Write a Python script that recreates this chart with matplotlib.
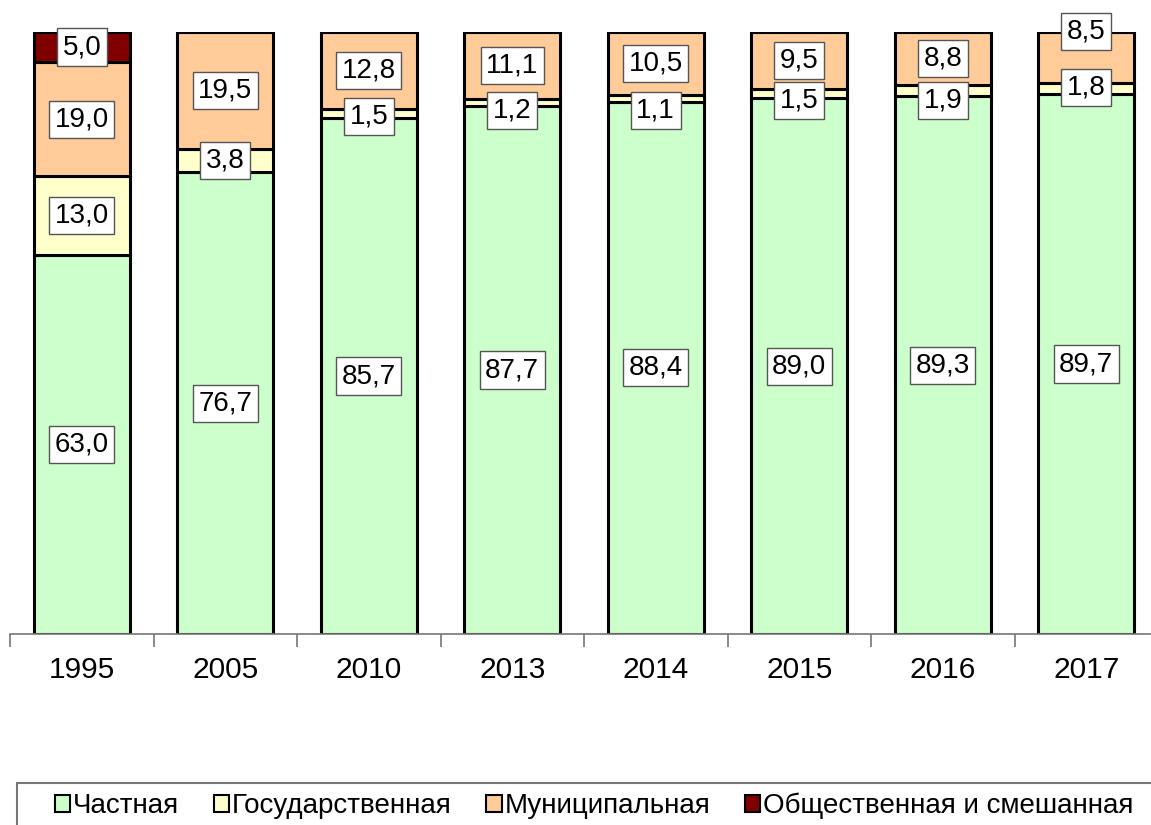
import matplotlib
matplotlib.use('Agg')
import matplotlib.pyplot as plt
import numpy as np
from matplotlib.patches import Rectangle

plt.rcParams['font.family'] = ['Liberation Sans', 'DejaVu Sans']

# Данные
years = ['1995', '2005', '2010', '2013', '2014', '2015', '2016', '2017']
chastnaya = [63.0, 76.7, 85.7, 87.7, 88.4, 89.0, 89.3, 89.7]
gosud = [13.0, 3.8, 1.5, 1.2, 1.1, 1.5, 1.9, 1.8]
munic = [19.0, 19.5, 12.8, 11.1, 10.5, 9.5, 8.8, 8.5]
obshch = [5.0, 0, 0, 0, 0, 0, 0, 0]
series_names = ['Частная', 'Государственная', 'Муниципальная', 'Общественная и смешанная']
colors = ['#CCFFCC', '#FFFFCC', '#FFCC99', '#800000']

# сдвиг подписей (пиксели, вверх +), чтобы не налезали
label_shift = {
    1: [0, 0, -3, -8, -12, -7, -10, 1],
    2: [0, 0, 0, 0, 0, 0, 0, 26],
}

fig = plt.figure(figsize=(11.51, 8.25), dpi=100)
ax = fig.add_axes([10/1151, (825-634)/825, 1148/1151, 602/825])

series = [chastnaya, gosud, munic, obshch]
x = np.arange(len(years))
bottom = np.zeros(len(years))
handles = []
for k, vals in enumerate(series):
    vals = np.array(vals)
    b = ax.bar(x, vals, 0.67, bottom=bottom, color=colors[k], edgecolor='black',
               linewidth=2.2, label=series_names[k], zorder=2)
    handles.append(b)
    for i, v in enumerate(vals):
        if v <= 0:
            continue
        dy = label_shift.get(k, [0]*len(years))[i]
        ax.annotate(f'{v:.1f}'.replace('.', ','), (x[i], bottom[i] + v/2),
                    xytext=(0, dy), textcoords='offset pixels',
                    ha='center', va='center', fontsize=20, zorder=5,
                    bbox=dict(boxstyle='square,pad=0.2', fc='white', ec='#555555', lw=1))
    bottom += vals

ax.set_xlim(-0.5, len(years) - 0.5)
ax.set_ylim(0, 100)
for s in ['top', 'right', 'left']:
    ax.spines[s].set_visible(False)
ax.spines['bottom'].set_color('#777777')
ax.spines['bottom'].set_linewidth(1.2)
ax.set_yticks([])
ax.set_xticks(x)
ax.set_xticklabels(years, fontsize=21.5)
ax.tick_params(axis='x', which='major', length=0, pad=16)
ax.set_xticks(np.arange(len(years)) - 0.5, minor=True)
ax.tick_params(axis='x', which='minor', length=9, color='#777777', width=1.2, direction='out')

# рамка легенды
fig.patches.append(Rectangle((17/1151, -0.1), 1.2, 0.1 + (825-783)/825, transform=fig.transFigure,
                             fill=False, edgecolor='#777777', linewidth=1.5))
leg = fig.legend(handles=handles, loc='lower left', bbox_to_anchor=(41/1151, -0.01),
                 ncol=4, frameon=False, fontsize=20, handlelength=0.55, handleheight=0.55,
                 handletextpad=0.1, columnspacing=1.25, borderpad=0)
for h in leg.legend_handles:
    h.set_linewidth(1.5)

fig.savefig('out.png', dpi=100)
